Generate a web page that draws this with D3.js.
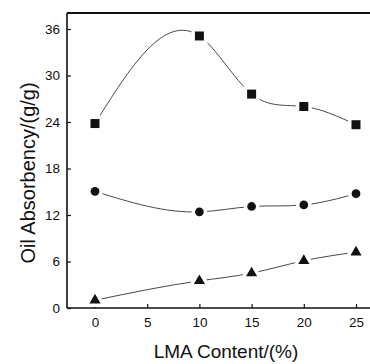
<!DOCTYPE html>
<html>
<head>
<meta charset="utf-8">
<script src="https://cdn.jsdelivr.net/npm/d3@7"></script>
<style>
  html, body { margin: 0; padding: 0; background: #fff; }
  svg { display: block; }
  text { font-family: "Liberation Sans", Arial, sans-serif; fill: #111; }
</style>
</head>
<body>
<svg id="chart" width="370" height="364"></svg>
<script>
const lmaContent = [0, 10, 15, 20, 25];
const squareSeries = [23.8, 35.1, 27.6, 26.0, 23.65];
const circleSeries = [15.05, 12.4, 13.1, 13.3, 14.75];
const triangleSeries = [1.0, 3.5, 4.5, 6.1, 7.2];
const xTicks = [0, 5, 10, 15, 20, 25];
const yTicks = [0, 6, 12, 18, 24, 30, 36];

const svg = d3.select("#chart");
const padL = 67, padR = 370, padT = 13, padB = 308;

const x = d3.scaleLinear().domain([0, 25]).range([95, 356]);
const y = d3.scaleLinear().domain([0, 36]).range([padB, 29]);

// Custom d3 curve: natural cubic spline y(x) (x-aware), drawn as Bezier segments
function NaturalX(context) { this._context = context; }
NaturalX.prototype = {
  areaStart() { this._line = 0; }, areaEnd() { this._line = NaN; },
  lineStart() { this._x = []; this._y = []; },
  point(px, py) { this._x.push(+px); this._y.push(+py); },
  lineEnd() {
    const X = this._x, Y = this._y, n = X.length, c = this._context;
    if (!n) return;
    c.moveTo(X[0], Y[0]);
    if (n === 1) return;
    const h = [], d = [];
    for (let i = 0; i < n - 1; i++) { h.push(X[i + 1] - X[i]); d.push((Y[i + 1] - Y[i]) / h[i]); }
    const M = new Array(n).fill(0);
    if (n > 2) {
      const m = n - 2, a = [], b = [], cc = [], r = [];
      for (let k = 0; k < m; k++) {
        const i = k + 1;
        a.push(h[i - 1]); b.push(2 * (h[i - 1] + h[i])); cc.push(h[i]); r.push(6 * (d[i] - d[i - 1]));
      }
      for (let k = 1; k < m; k++) { const w = a[k] / b[k - 1]; b[k] -= w * cc[k - 1]; r[k] -= w * r[k - 1]; }
      const sol = new Array(m);
      sol[m - 1] = r[m - 1] / b[m - 1];
      for (let k = m - 2; k >= 0; k--) sol[k] = (r[k] - cc[k] * sol[k + 1]) / b[k];
      for (let k = 0; k < m; k++) M[k + 1] = sol[k];
    }
    for (let i = 0; i < n - 1; i++) {
      const m0 = d[i] - h[i] * (2 * M[i] + M[i + 1]) / 6;
      const m1 = d[i] + h[i] * (M[i] + 2 * M[i + 1]) / 6;
      c.bezierCurveTo(X[i] + h[i] / 3, Y[i] + m0 * h[i] / 3,
                      X[i + 1] - h[i] / 3, Y[i + 1] - m1 * h[i] / 3,
                      X[i + 1], Y[i + 1]);
    }
  }
};
const curveNaturalX = context => new NaturalX(context);

// frame lines: left, top
svg.append("line").attr("x1", padL).attr("x2", padL).attr("y1", padT).attr("y2", padB)
  .attr("stroke", "#111").attr("stroke-width", 1.6);
svg.append("line").attr("x1", padL).attr("x2", padR).attr("y1", padT).attr("y2", padT)
  .attr("stroke", "#111").attr("stroke-width", 1.8);

const xAxis = d3.axisBottom(x).tickValues(xTicks).tickSize(-4).tickPadding(9).tickFormat(d3.format("d"));
const gx = svg.append("g").attr("transform", `translate(0,${padB})`).call(xAxis);
gx.select(".domain").remove();
gx.append("line").attr("x1", padL).attr("x2", padR).attr("y1", 0).attr("y2", 0)
  .attr("stroke", "#111").attr("stroke-width", 1.6);
gx.selectAll(".tick line").attr("stroke", "#111").attr("stroke-width", 1.2);
gx.selectAll(".tick text").attr("font-size", 13.5).attr("fill", "#111")
  .style("font-family", "Liberation Sans, Arial, sans-serif");

const yAxis = d3.axisLeft(y).tickValues(yTicks).tickSize(-4).tickPadding(7).tickFormat(d3.format("d"));
const gy = svg.append("g").attr("transform", `translate(${padL},0)`).call(yAxis);
gy.select(".domain").remove();
gy.selectAll(".tick line").attr("stroke", "#111").attr("stroke-width", 1.2);
gy.selectAll(".tick text").attr("font-size", 13.5).attr("fill", "#111")
  .style("font-family", "Liberation Sans, Arial, sans-serif");

// axis titles
svg.append("text").attr("x", 226).attr("y", 358).attr("text-anchor", "middle")
  .attr("font-size", 19).text("LMA Content/(%)");
svg.append("text").attr("transform", "translate(35,173) rotate(-90)").attr("text-anchor", "middle")
  .attr("font-size", 20).text("Oil Absorbency/(g/g)");

const series = [
  { vals: squareSeries, sym: d3.symbolSquare, size: 81 },
  { vals: circleSeries, sym: d3.symbolCircle, size: 60 },
  { vals: triangleSeries, sym: d3.symbolTriangle, size: 54 }
];

const line = d3.line().x((d, i) => x(lmaContent[i])).y(d => y(d)).curve(curveNaturalX);

series.forEach(s => {
  svg.append("path").attr("d", line(s.vals)).attr("fill", "none")
    .attr("stroke", "#333").attr("stroke-width", 0.9);
});
series.forEach(s => {
  svg.append("g").selectAll("path").data(s.vals).join("path")
    .attr("transform", (d, i) => `translate(${x(lmaContent[i])},${y(d)})`)
    .attr("d", d3.symbol().type(s.sym).size(s.size))
    .attr("fill", "#111").attr("stroke", "#fff").attr("stroke-width", 7)
    .style("paint-order", "stroke");
});
</script>
</body>
</html>
